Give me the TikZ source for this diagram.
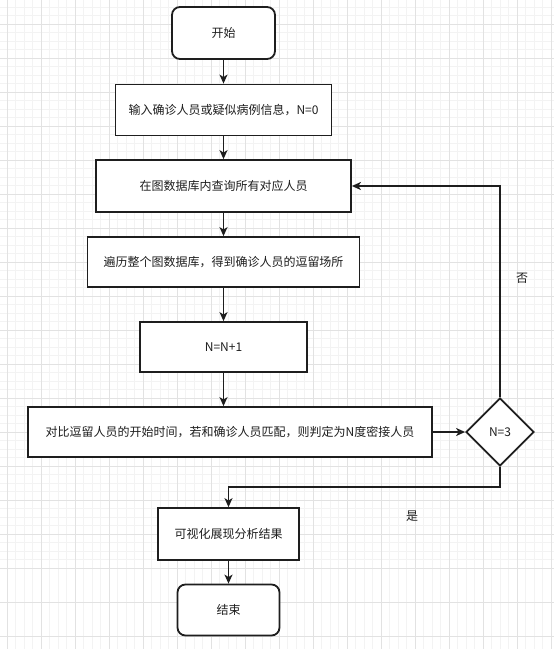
\documentclass[tikz,border=0pt]{standalone}
\usepackage{fontspec}
\setmainfont{Noto Sans CJK SC}
\usetikzlibrary{shapes.geometric,arrows.meta,calc}
\definecolor{ink}{HTML}{1E1E1E}
\definecolor{minorgrid}{HTML}{F3F3F3}
\definecolor{majorgrid}{HTML}{E2E2E2}
\begin{document}
\begin{tikzpicture}[x=1pt,y=-1pt,
  font=\fontsize{12pt}{14pt}\selectfont,
  box/.style={draw=ink,line width=1.8pt,fill=white,rectangle,inner sep=2pt,text=ink},
  term/.style={box,rounded corners=8pt},
  decide/.style={draw=ink,line width=1.8pt,fill=white,diamond,inner sep=0pt,text=ink},
  arr/.style={draw=ink,line width=1.6pt,-{Stealth[length=9pt,width=8pt,inset=2.5pt]}},
  lbl/.style={text=ink,inner sep=0pt}]
\fill[white] (0,0) rectangle (554,649);
\useasboundingbox (0,0) rectangle (554,649);
% grid
\foreach \g in {-1.5,7,...,560} {
  \draw[minorgrid,line width=0.6pt] (\g,0) -- (\g,649);
  \draw[minorgrid,line width=0.6pt] (0,\g) -- (554,\g);
}
\foreach \g in {7,41,...,560} {
  \draw[majorgrid,line width=0.8pt] (\g,0) -- (\g,649);
}
\foreach \g in {24,58,...,660} {
  \draw[majorgrid,line width=0.8pt] (0,\g) -- (554,\g);
}
% nodes
\node[term,minimum width=103pt,minimum height=52pt] (start) at (223.5,33) {开始};
\node[box,minimum width=216pt,minimum height=51pt] (b1) at (223.5,110) {输入确诊人员或疑似病例信息，N=0};
\node[box,minimum width=255pt,minimum height=52pt] (b2) at (223.5,186) {在图数据库内查询所有对应人员};
\node[box,minimum width=272pt,minimum height=50pt] (b3) at (223.5,262) {遍历整个图数据库，得到确诊人员的逗留场所};
\node[box,minimum width=167pt,minimum height=50pt] (b4) at (223.5,347) {N=N+1};
\node[box,minimum width=404pt,minimum height=50pt] (b5) at (230,432) {对比逗留人员的开始时间，若和确诊人员匹配，则判定为N度密接人员};
\node[decide,minimum width=68pt,minimum height=68pt] (d) at (500,432) {N=3};
\node[box,minimum width=141pt,minimum height=52pt] (b6) at (228.5,534) {可视化展现分析结果};
\node[term,minimum width=102pt,minimum height=51pt] (end) at (228.5,610) {结束};
\coordinate (turn) at (500,487);
% connectors
\draw[arr] (start) -- (b1);
\draw[arr] (b1) -- (b2);
\draw[arr] (b2) -- (b3);
\draw[arr] (b3) -- (b4);
\draw[arr] (b4.south) -- (b4.south |- b5.north);
\draw[arr] (b5.east) -- (d.west);
\draw[arr] (d.north) |- (b2.east);
\draw[arr] (d.south) -- (turn) -| (b6.north);
\draw[arr] (b6) -- (end);
% labels
\node[lbl] (no) at (522,278) {否};
\node[lbl] (yes) at (412,516) {是};
\end{tikzpicture}
\end{document}
